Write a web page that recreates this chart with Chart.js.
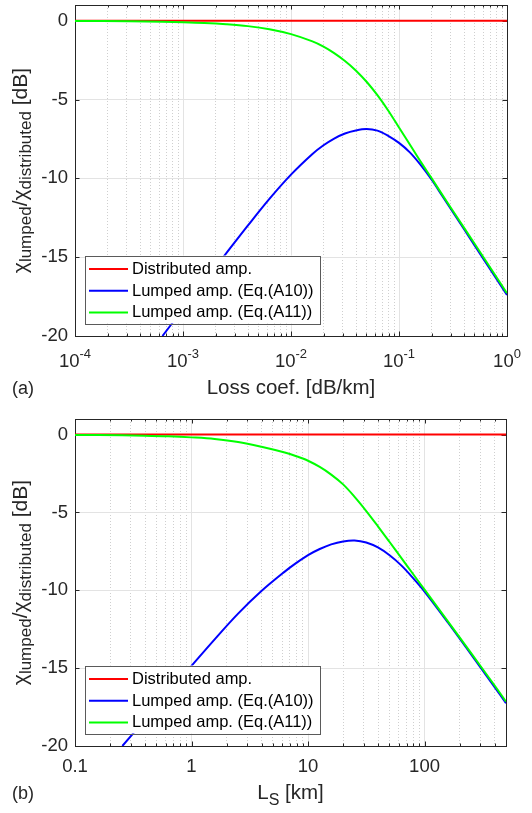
<!DOCTYPE html>
<html>
<head>
<meta charset="utf-8">
<script src="https://cdn.jsdelivr.net/npm/chart.js@4/dist/chart.umd.min.js"></script>
<style>
  html, body { margin: 0; padding: 0; background: #fff; }
  #wrap { position: relative; width: 532px; height: 813px; overflow: hidden; }
  canvas { position: absolute; left: 0; }
  #panelA { top: 0; }
  #panelB { top: 406px; }
</style>
</head>
<body>
<div id="wrap">
  <canvas id="panelA" width="532" height="406"></canvas>
  <canvas id="panelB" width="532" height="407"></canvas>
</div>
<script>
// ---- Panel (a): sweep of the fibre loss coefficient [dB/km] ----
const lossCoef      = [1e-4, 3.16e-4, 6.45e-4, 1e-3, 1.58e-3, 2.51e-3, 3.98e-3, 6.31e-3, 0.01, 0.0158, 0.02,
                       0.0251, 0.0316, 0.0398, 0.0501, 0.0631, 0.0794, 0.1, 0.126, 0.158, 0.2, 0.251,
                       0.398, 0.631, 1.0];
const distributedA  = [0, 0, 0, 0, 0, 0, 0, 0, 0, 0, 0, 0, 0, 0, 0, 0, 0, 0, 0, 0, 0, 0, 0, 0, 0];
const lumpedA10_a   = [null, null, -20, -18.29, -16.52, -14.76, -13.0, -11.3, -9.76, -8.45, -7.9,
                       -7.47, -7.15, -6.96, -6.87, -6.97, -7.3, -7.75, -8.35, -9.13, -10.07, -11.1,
                       -13.2, -15.3, -17.4];
const lumpedA11_a   = [-0.01, -0.03, -0.06, -0.09, -0.14, -0.22, -0.34, -0.54, -0.85, -1.31, -1.64,
                       -2.05, -2.55, -3.15, -3.87, -4.72, -5.69, -6.77, -7.85, -8.92, -9.98, -11.03,
                       -13.11, -15.19, -17.29];

// ---- Panel (b): sweep of the span length L_S [km] ----
const spanLength    = [0.1, 0.255, 0.398, 0.631, 1, 1.58, 2.51, 3.98, 6.31, 7.94, 10, 12.6, 15.8, 20,
                       25.1, 31.6, 39.8, 50.1, 63.1, 79.4, 100, 158, 251, 398, 500];
const distributedB  = [0, 0, 0, 0, 0, 0, 0, 0, 0, 0, 0, 0, 0, 0, 0, 0, 0, 0, 0, 0, 0, 0, 0, 0, 0];
const lumpedA10_b   = [null, -20, -18.32, -16.57, -14.85, -13.15, -11.5, -10.05, -8.8, -8.24, -7.74,
                       -7.35, -7.05, -6.86, -6.8, -6.93, -7.25, -7.75, -8.4, -9.2, -10.08, -12.05,
                       -14.12, -16.2, -17.25];
const lumpedA11_b   = [-0.02, -0.05, -0.07, -0.11, -0.18, -0.28, -0.47, -0.78, -1.15, -1.39, -1.68,
                       -2.08, -2.57, -3.2, -4.0, -4.91, -5.89, -6.9, -7.92, -8.94, -9.96, -11.98,
                       -14.04, -16.1, -17.15];

// ---- shared axis settings ----
const seriesLabels = ['Distributed amp.', 'Lumped amp. (Eq.(A10))', 'Lumped amp. (Eq.(A11))'];
const seriesColors = ['#ff0000', '#0000ff', '#00ff00'];
const yTickValues  = [-20, -15, -10, -5, 0];
const yRange       = [-20, 1];

const FONT = '"Liberation Sans", Arial, Helvetica, sans-serif';
const INK = '#262626';
const GRID_MAJOR = '#e3e3e3';
const GRID_MINOR = '#cfcfcf';

function isDecade(v) {
  const l = Math.log10(v);
  return Math.abs(l - Math.round(l)) < 1e-6;
}
function logTickValues(min, max) {
  const out = [];
  for (let e = Math.floor(Math.log10(min)); e <= Math.ceil(Math.log10(max)); e++) {
    for (let m = 1; m <= 9; m++) {
      const v = +(m * Math.pow(10, e)).toPrecision(6);
      if (v >= min * (1 - 1e-9) && v <= max * (1 + 1e-9)) out.push(v);
    }
  }
  return out;
}
function toPoints(xs, ys) {
  return xs.map((x, i) => ({ x: x, y: ys[i] }));
}

// Mixed-size text runs (for sub/superscripts) starting at x on baseline y.
function runWidth(ctx, runs) {
  let w = 0;
  runs.forEach(r => { ctx.font = r.size + 'px ' + FONT; w += ctx.measureText(r.text).width; });
  return w;
}
function drawRuns(ctx, runs, x, y) {
  let cx = x;
  runs.forEach(r => {
    ctx.font = r.size + 'px ' + FONT;
    ctx.fillText(r.text, cx, y + (r.dy || 0));
    cx += ctx.measureText(r.text).width;
  });
}

// MATLAB-style axes furniture: box, inward ticks, legend and labels.
const axesFurniture = {
  id: 'axesFurniture',
  beforeDatasetsDraw(chart) {
    const ctx = chart.ctx;
    const a = chart.chartArea;
    const xs = chart.scales.x, ys = chart.scales.y;
    ctx.save();
    ctx.strokeStyle = INK;
    ctx.lineWidth = 1;
    ctx.beginPath();
    xs.ticks.forEach(t => {
      const px = Math.round(xs.getPixelForValue(t.value)) + 0.5;
      const len = isDecade(t.value) ? 4.5 : 2.5;
      ctx.moveTo(px, a.bottom); ctx.lineTo(px, a.bottom - len);
      ctx.moveTo(px, a.top); ctx.lineTo(px, a.top + len);
    });
    ys.ticks.forEach(t => {
      const py = Math.round(ys.getPixelForValue(t.value)) + 0.5;
      ctx.moveTo(a.left, py); ctx.lineTo(a.left + 4.5, py);
      ctx.moveTo(a.right, py); ctx.lineTo(a.right - 4.5, py);
    });
    ctx.stroke();
    ctx.strokeRect(Math.round(a.left) + 0.5, Math.round(a.top) + 0.5,
                   Math.round(a.right - a.left), Math.round(a.bottom - a.top));
    ctx.restore();
  },
  afterDraw(chart, args, opts) {
    const ctx = chart.ctx;
    const a = chart.chartArea;
    const xs = chart.scales.x;
    ctx.save();
    ctx.fillStyle = INK;
    ctx.textBaseline = 'alphabetic';

    // decade labels written as powers of ten
    if (opts.powerLabels) {
      xs.ticks.forEach(t => {
        if (!isDecade(t.value)) return;
        const e = Math.round(Math.log10(t.value));
        const runs = [{ text: '10', size: 18.5 }, { text: String(e), size: 13, dy: -8.7 }];
        const w = runWidth(ctx, runs);
        drawRuns(ctx, runs, xs.getPixelForValue(t.value) - w / 2, a.bottom + 31);
      });
    }

    // x-axis title
    const xw = runWidth(ctx, opts.xTitle);
    drawRuns(ctx, opts.xTitle, (a.left + a.right) / 2 - xw / 2, opts.xTitleBaseline);

    // panel tag
    ctx.font = '18px ' + FONT;
    ctx.fillText(opts.tag, 12, opts.xTitleBaseline - 0.5);

    // y-axis title, rotated
    const yRuns = [
      { text: 'χ', size: 21 }, { text: 'lumped', size: 17, dy: 4 },
      { text: '/', size: 21 },
      { text: 'χ', size: 21 }, { text: 'distributed', size: 17, dy: 4 },
      { text: ' [dB]', size: 21 }
    ];
    ctx.save();
    ctx.translate(26.5, (a.top + a.bottom) / 2);
    ctx.rotate(-Math.PI / 2);
    const yw = runWidth(ctx, yRuns);
    drawRuns(ctx, yRuns, -yw / 2, 0);
    ctx.restore();

    // legend box
    const lx = a.left + 10, ly = a.bottom - 80.5, lw = 235, lh = 68;
    ctx.fillStyle = '#ffffff';
    ctx.fillRect(lx, ly, lw, lh);
    ctx.strokeStyle = '#5a5a5a';
    ctx.lineWidth = 1;
    ctx.strokeRect(Math.round(lx) + 0.5, Math.round(ly) + 0.5, lw, lh);
    chart.data.datasets.forEach((ds, i) => {
      const ry = ly + 13.5 + i * 21.7;
      ctx.strokeStyle = ds.borderColor;
      ctx.lineWidth = 2;
      ctx.beginPath();
      ctx.moveTo(lx + 4, ry); ctx.lineTo(lx + 43, ry);
      ctx.stroke();
      ctx.fillStyle = '#000';
      ctx.font = '16.5px ' + FONT;
      ctx.textBaseline = 'middle';
      ctx.fillText(ds.label, lx + 47, ry + 0.5);
    });
    ctx.restore();
  }
};

function makePanel(canvasId, p) {
  const series = [p.dist, p.a10, p.a11];
  return new Chart(document.getElementById(canvasId), {
    type: 'line',
    data: {
      datasets: series.map((ys, i) => ({
        label: seriesLabels[i],
        data: toPoints(p.x, ys),
        borderColor: seriesColors[i],
        backgroundColor: seriesColors[i],
        order: 2 - i
      }))
    },
    options: {
      responsive: false,
      animation: false,
      devicePixelRatio: 1,
      layout: { padding: { left: 0, right: p.padRight, top: p.padTop, bottom: 0 } },
      plugins: {
        legend: { display: false },
        tooltip: { enabled: false },
        axesFurniture: { powerLabels: p.powerLabels, xTitle: p.xTitle, xTitleBaseline: p.xTitleBaseline, tag: p.tag }
      },
      elements: {
        point: { radius: 0 },
        line: { borderWidth: 2, tension: 0.35, fill: false }
      },
      scales: {
        x: {
          type: 'logarithmic',
          min: p.xMin, max: p.xMax,
          afterBuildTicks: s => { s.ticks = logTickValues(p.xMin, p.xMax).map(v => ({ value: v })); },
          afterFit: s => { s.height = p.xAxisHeight; s.paddingLeft = 0; s.paddingRight = 0; },
          grid: {
            drawTicks: false,
            lineWidth: 1,
            color: c => (c.tick && !isDecade(c.tick.value)) ? GRID_MINOR : GRID_MAJOR
          },
          border: { display: false, dash: c => (c.tick && !isDecade(c.tick.value)) ? [1, 2] : [] },
          ticks: {
            display: !p.powerLabels,
            autoSkip: false, maxRotation: 0, minRotation: 0,
            padding: 10,
            color: INK,
            font: { family: FONT, size: 18.5 },
            callback: v => isDecade(v) ? String(v) : ''
          }
        },
        y: {
          min: yRange[0], max: yRange[1],
          afterBuildTicks: s => { s.ticks = yTickValues.map(v => ({ value: v })); },
          afterFit: s => { s.width = 75; s.paddingTop = 0; s.paddingBottom = 0; },
          grid: { drawTicks: false, lineWidth: 1, color: GRID_MAJOR },
          border: { display: false },
          ticks: {
            padding: 7,
            color: INK,
            font: { family: FONT, size: 18.5 },
            callback: v => String(v)
          }
        }
      }
    },
    plugins: [axesFurniture]
  });
}

makePanel('panelA', {
  x: lossCoef, dist: distributedA, a10: lumpedA10_a, a11: lumpedA11_a,
  xMin: 1e-4, xMax: 1, padTop: 5, padRight: 25, xAxisHeight: 70,
  powerLabels: true,
  xTitle: [{ text: 'Loss coef. [dB/km]', size: 20.5 }],
  xTitleBaseline: 394, tag: '(a)'
});

makePanel('panelB', {
  x: spanLength, dist: distributedB, a10: lumpedA10_b, a11: lumpedA11_b,
  xMin: 0.1, xMax: 500, padTop: 13, padRight: 26, xAxisHeight: 67,
  powerLabels: false,
  xTitle: [{ text: 'L', size: 20.5 }, { text: 'S', size: 16, dy: 6 }, { text: ' [km]', size: 20.5 }],
  xTitleBaseline: 393, tag: '(b)'
});
</script>
</body>
</html>
